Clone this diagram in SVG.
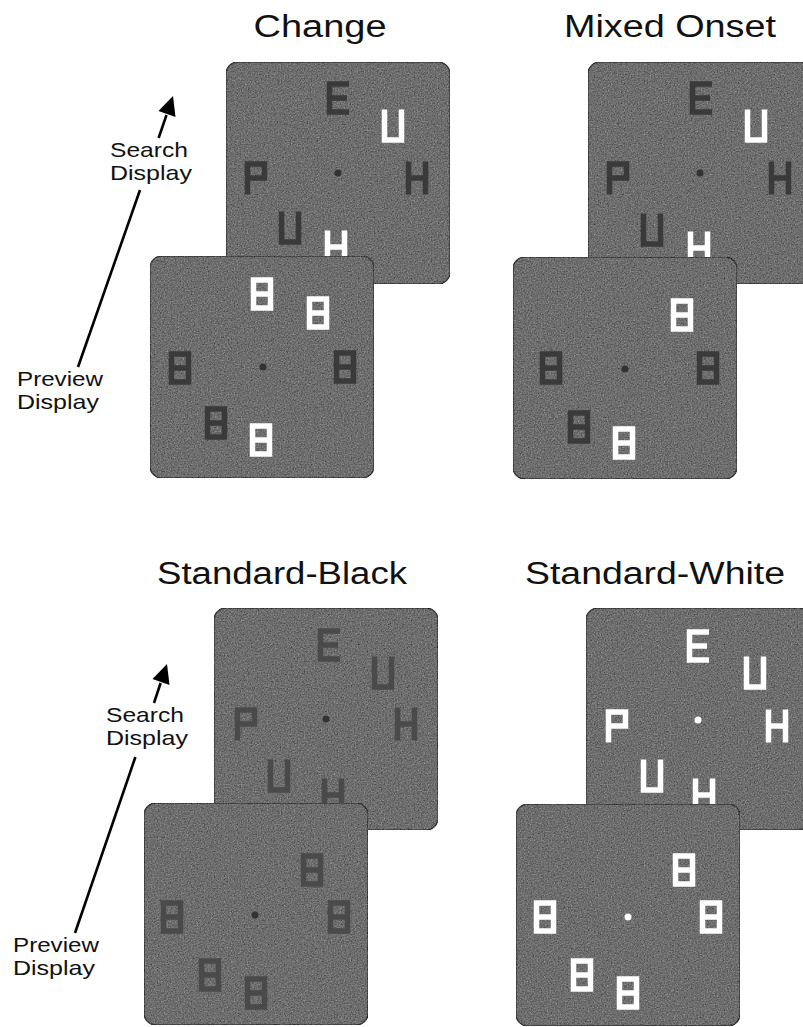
<svg xmlns="http://www.w3.org/2000/svg" xmlns:xlink="http://www.w3.org/1999/xlink" width="803" height="1027" viewBox="0 0 803 1027">
<style>
  .title{font-family:"Liberation Sans",Arial,sans-serif;font-size:31px;fill:#111;text-anchor:middle}
  .lbl{font-family:"Liberation Sans",Arial,sans-serif;font-size:21px;fill:#111}
  .sq{fill:#6e6e6e;stroke:#3a3a3a;stroke-width:1.5}
  .dk{stroke:#3a3a3a}
  .dk2{stroke:#4a4a4a}
  .wt{stroke:#ffffff}
  .dotd{fill:#333}
  .dotw{fill:#fff}
  .arr{stroke:#000;stroke-width:2.6;fill:none}
  .ah{fill:#000}
</style>
<defs>
  <filter id="grain" x="0" y="0" width="1" height="1" color-interpolation-filters="sRGB">
    <feTurbulence type="fractalNoise" baseFrequency="0.7" numOctaves="2" seed="7" result="t"/>
    <feColorMatrix in="t" type="matrix" values="0.33 0.33 0.33 0 0 0.33 0.33 0.33 0 0 0.33 0.33 0.33 0 0 0 0 0 0 1" result="g"/>
    <feComposite in="g" in2="SourceGraphic" operator="arithmetic" k1="0" k2="0.7" k3="1" k4="-0.35" result="m"/>
    <feComposite in="m" in2="SourceGraphic" operator="in"/>
  </filter>
  <g id="L8" fill="none" stroke-width="5.5" stroke-linejoin="miter"><path d="M-8.5,-14H8.5V14H-8.5Z M-8.5,0H8.5"/></g>
  <g id="LE" fill="none" stroke-width="5.5" stroke-linejoin="miter"><path d="M11,-14H-8.5V14H11 M-8.5,0H9"/></g>
  <g id="LU" fill="none" stroke-width="5.5" stroke-linejoin="miter"><path d="M-8.5,-16.5V14H8.5V-16.5"/></g>
  <g id="LP" fill="none" stroke-width="5.5" stroke-linejoin="miter"><path d="M-8.5,16.5V-14H8.5V0H-8.5"/></g>
  <g id="LH" fill="none" stroke-width="5.5" stroke-linejoin="miter"><path d="M-8.5,-16.5V16.5 M8.5,-16.5V16.5 M-8.5,0H8.5"/></g>
</defs>
<rect width="803" height="1027" fill="#fff"/>

<g id="titles">
  <text class="title" x="320" y="37" textLength="133" lengthAdjust="spacingAndGlyphs">Change</text>
  <text class="title" x="670" y="37" textLength="212" lengthAdjust="spacingAndGlyphs">Mixed Onset</text>
  <text class="title" x="282" y="584" textLength="250" lengthAdjust="spacingAndGlyphs">Standard-Black</text>
  <text class="title" x="655" y="584" textLength="260" lengthAdjust="spacingAndGlyphs">Standard-White</text>
</g>

<!-- Panel 1: Change -->
<g id="change-search">
  <rect class="sq" x="226" y="62" width="224" height="222" rx="12" filter="url(#grain)"/>
  <use href="#LE" class="dk" x="338" y="98"/>
  <use href="#LU" class="wt" x="393" y="126"/>
  <use href="#LP" class="dk" x="256" y="178"/>
  <use href="#LH" class="dk" x="417" y="178"/>
  <use href="#LU" class="dk" x="290" y="228"/>
  <use href="#LH" class="wt" x="336" y="247"/>
  <circle class="dotd" cx="338" cy="173" r="3.5"/>
</g>
<g id="change-preview">
  <rect class="sq" x="150" y="256" width="224" height="222" rx="12" filter="url(#grain)"/>
  <use href="#L8" class="wt" x="262" y="294"/>
  <use href="#L8" class="wt" x="318" y="313"/>
  <use href="#L8" class="dk" x="180" y="368"/>
  <use href="#L8" class="dk" x="345" y="367"/>
  <use href="#L8" class="dk" x="216" y="423"/>
  <use href="#L8" class="wt" x="261" y="440"/>
  <circle class="dotd" cx="263" cy="367" r="3.5"/>
</g>

<!-- Panel 2: Mixed Onset -->
<g id="mixed-search">
  <rect class="sq" x="588" y="62" width="224" height="222" rx="12" filter="url(#grain)"/>
  <use href="#LE" class="dk" x="701" y="98"/>
  <use href="#LU" class="wt" x="756" y="126"/>
  <use href="#LP" class="dk" x="618" y="178"/>
  <use href="#LH" class="dk" x="780" y="178"/>
  <use href="#LU" class="dk" x="652" y="230"/>
  <use href="#LH" class="wt" x="699" y="248"/>
  <circle class="dotd" cx="700" cy="173" r="3.5"/>
</g>
<g id="mixed-preview">
  <rect class="sq" x="513" y="257" width="224" height="222" rx="12" filter="url(#grain)"/>
  <use href="#L8" class="wt" x="682" y="315"/>
  <use href="#L8" class="dk" x="551" y="368"/>
  <use href="#L8" class="dk" x="708" y="368"/>
  <use href="#L8" class="dk" x="579" y="427"/>
  <use href="#L8" class="wt" x="624" y="443"/>
  <circle class="dotd" cx="625" cy="369" r="3.5"/>
</g>

<!-- Panel 3: Standard-Black -->
<g id="black-search">
  <rect class="sq" x="214" y="608" width="224" height="222" rx="12" filter="url(#grain)"/>
  <use href="#LE" class="dk2" x="329" y="645"/>
  <use href="#LU" class="dk2" x="383" y="673"/>
  <use href="#LP" class="dk2" x="246" y="724"/>
  <use href="#LH" class="dk2" x="406" y="724"/>
  <use href="#LU" class="dk2" x="279" y="776"/>
  <use href="#LH" class="dk2" x="333" y="795"/>
  <circle class="dotd" cx="326" cy="719" r="3.5"/>
</g>
<g id="black-preview">
  <rect class="sq" x="144" y="803" width="224" height="222" rx="12" filter="url(#grain)"/>
  <use href="#L8" class="dk2" x="312" y="870"/>
  <use href="#L8" class="dk2" x="172" y="917"/>
  <use href="#L8" class="dk2" x="339" y="917"/>
  <use href="#L8" class="dk2" x="210" y="975"/>
  <use href="#L8" class="dk2" x="256" y="993"/>
  <circle class="dotd" cx="255" cy="915" r="3.5"/>
</g>

<!-- Panel 4: Standard-White -->
<g id="white-search">
  <rect class="sq" x="586" y="608" width="224" height="222" rx="12" filter="url(#grain)"/>
  <use href="#LE" class="wt" x="698" y="646"/>
  <use href="#LU" class="wt" x="755" y="673"/>
  <use href="#LP" class="wt" x="617" y="726"/>
  <use href="#LH" class="wt" x="777" y="726"/>
  <use href="#LU" class="wt" x="652" y="776"/>
  <use href="#LH" class="wt" x="704" y="795"/>
  <circle class="dotw" cx="698" cy="720" r="3.5"/>
</g>
<g id="white-preview">
  <rect class="sq" x="516" y="804" width="224" height="222" rx="12" filter="url(#grain)"/>
  <use href="#L8" class="wt" x="684" y="870"/>
  <use href="#L8" class="wt" x="545" y="917"/>
  <use href="#L8" class="wt" x="711" y="917"/>
  <use href="#L8" class="wt" x="582" y="975"/>
  <use href="#L8" class="wt" x="628" y="993"/>
  <circle class="dotw" cx="628" cy="917" r="3.5"/>
</g>

<!-- Labels -->
<g id="labels-top">
  <text class="lbl" x="110" y="157" textLength="78" lengthAdjust="spacingAndGlyphs">Search</text>
  <text class="lbl" x="110" y="180" textLength="82" lengthAdjust="spacingAndGlyphs">Display</text>
  <text class="lbl" x="17" y="386" textLength="86" lengthAdjust="spacingAndGlyphs">Preview</text>
  <text class="lbl" x="17" y="409" textLength="82" lengthAdjust="spacingAndGlyphs">Display</text>
</g>
<g id="labels-bottom">
  <text class="lbl" x="106" y="722" textLength="78" lengthAdjust="spacingAndGlyphs">Search</text>
  <text class="lbl" x="106" y="745" textLength="82" lengthAdjust="spacingAndGlyphs">Display</text>
  <text class="lbl" x="13" y="952" textLength="86" lengthAdjust="spacingAndGlyphs">Preview</text>
  <text class="lbl" x="13" y="975" textLength="82" lengthAdjust="spacingAndGlyphs">Display</text>
</g>

<!-- Connectors -->
<g id="connectors">
  <line class="arr" x1="78" y1="367" x2="140" y2="190"/>
  <line class="arr" x1="158.6" y1="138" x2="166.5" y2="115"/>
  <polygon class="ah" points="173,96 175.5,117 158.5,111"/>
  <line class="arr" x1="75" y1="933" x2="135.4" y2="757"/>
  <line class="arr" x1="154" y1="703" x2="160.6" y2="683"/>
  <polygon class="ah" points="167,664 169.5,685 152.5,679"/>
</g>
</svg>
